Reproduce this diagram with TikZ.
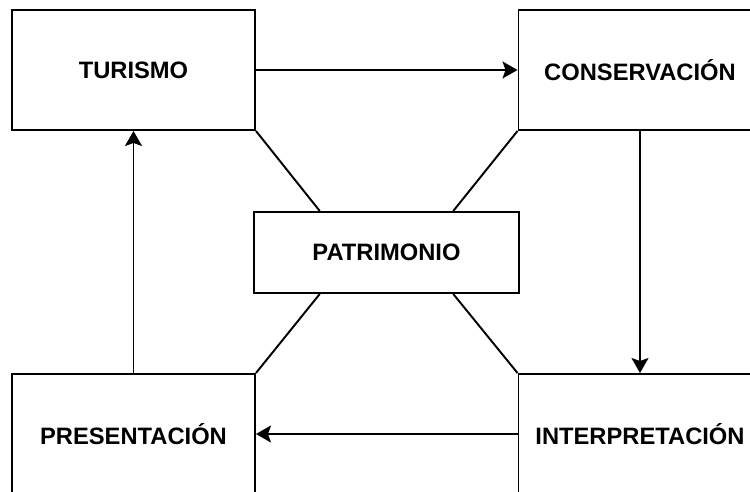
\documentclass[tikz,border=0pt]{standalone}
\usepackage{fontspec}
\setmainfont{Liberation Sans}
\usetikzlibrary{calc,arrows.meta,positioning}

\begin{document}
\begin{tikzpicture}[
    caja/.style={draw,line width=1.1pt,inner sep=0pt,minimum width=4.86cm,
      minimum height=2.4cm,font=\fontsize{13.5}{16}\selectfont\bfseries},
    flecha/.style={line width=1.1pt,-{Stealth[length=0.3cm,width=0.34cm,inset=0.06cm]}},
    linea/.style={line width=1.1pt}
  ]
      \useasboundingbox (0,0) rectangle (15,9.84);
      \clip (0,0) rectangle (15,9.84);
      \node[caja] (turismo) at (2.67,8.44) {TURISMO};
      \node[caja] (conservacion) at (12.8,8.44) {CONSERVACIÓN};
      \node[caja,minimum width=5.3cm,minimum height=1.62cm] (patrimonio) at (7.73,4.79) {PATRIMONIO};
      \node[caja] (presentacion) at (2.67,1.16) {PRESENTACIÓN};
      \node[caja] (interpretacion) at (12.8,1.16) {INTERPRETACIÓN};
      % ciclo
      \draw[flecha] (turismo) -- (conservacion);
      \draw[flecha] (conservacion) -- (interpretacion);
      \draw[flecha] (interpretacion) -- (presentacion);
      \draw[flecha] (presentacion) -- (turismo);
      % patrimonio al centro
      \draw[linea] (turismo.south east) -- ($(patrimonio.north west)!0.25!(patrimonio.north east)$);
      \draw[linea] (conservacion.south west) -- ($(patrimonio.north west)!0.75!(patrimonio.north east)$);
      \draw[linea] (presentacion.north east) -- ($(patrimonio.south west)!0.25!(patrimonio.south east)$);
      \draw[linea] (interpretacion.north west) -- ($(patrimonio.south west)!0.75!(patrimonio.south east)$);
    \end{tikzpicture}
\end{document}
